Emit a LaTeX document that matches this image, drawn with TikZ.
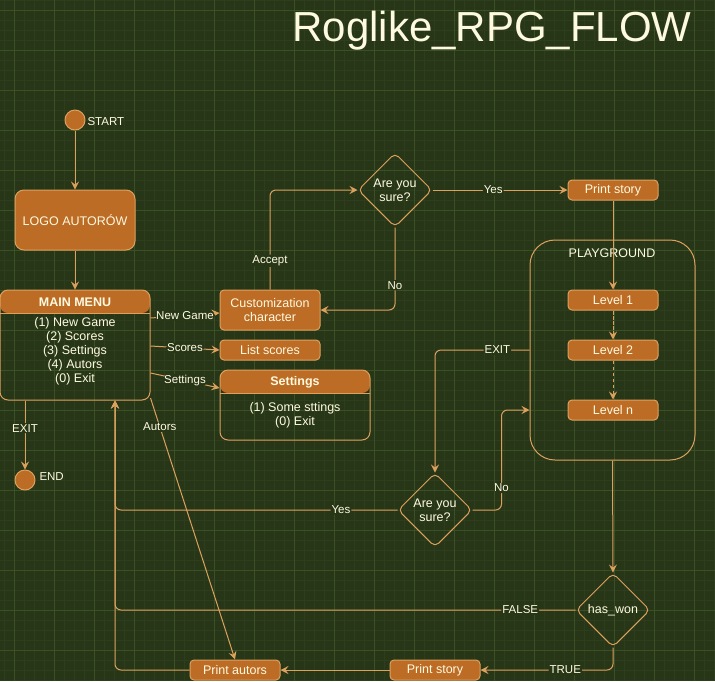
\documentclass[tikz,border=0pt]{standalone}
\usepackage{fontspec}
\setmainfont{Liberation Sans}
\usetikzlibrary{arrows.meta,shapes.geometric}
\definecolor{bgc}{HTML}{283618}
\definecolor{gridmin}{HTML}{2D3D1D}
\definecolor{gridmaj}{HTML}{3A5025}
\definecolor{boxc}{HTML}{BC6C25}
\definecolor{linec}{HTML}{DDA15E}
\definecolor{txtc}{HTML}{FEFAE0}
\tikzset{every picture/.style={line width=1pt}}

\begin{document}
\begin{tikzpicture}[x=1pt, y=-1pt, line join=round, >={Stealth[length=8pt,width=8pt,inset=3pt]},
  box/.style={draw=linec, fill=boxc, text=txtc, rounded corners=4pt, align=center, inner sep=0pt, minimum width=90pt, minimum height=20pt, font=\fontsize{12.5}{14}\selectfont},
  lane/.style={draw=linec, rounded corners=8pt, inner sep=0pt,
    path picture={\fill[boxc] (path picture bounding box.north west) rectangle ([yshift=-#1]path picture bounding box.north east);
      \draw[linec] ([yshift=-#1]path picture bounding box.north west) -- ([yshift=-#1]path picture bounding box.north east);}},
  choice/.style={diamond, aspect=1, draw=linec, rounded corners=5pt, text=txtc, align=center, inner sep=0pt, minimum size=74pt, font=\fontsize{12.5}{14}\selectfont},
  state/.style={circle, draw=linec, fill=boxc, minimum size=20pt, inner sep=0pt},
  txt/.style={text=txtc, align=center, inner sep=0pt, font=\fontsize{12.5}{14}\selectfont},
  lbl/.style={fill=bgc, text=txtc, inner sep=1pt, font=\fontsize{11.5}{13}\selectfont},
  arr/.style={draw=linec, ->, rounded corners=6pt}]
\useasboundingbox (0,0) rectangle (715,681);
\fill[bgc] (0,0) rectangle (715,681);
% grid
\foreach \x in {4,14,...,714} \draw[gridmin, line width=0.5pt] (\x,0) -- (\x,681);
\foreach \y in {0,10,...,680} \draw[gridmin, line width=0.5pt] (0,\y) -- (715,\y);
\foreach \x in {14,54,...,714} \draw[gridmaj, line width=0.8pt] (\x,0) -- (\x,681);
\foreach \y in {10,50,...,680} \draw[gridmaj, line width=0.8pt] (0,\y) -- (715,\y);

\node[txt, anchor=east, font=\fontsize{42}{46}\selectfont] (title) at (692,31) {Roglike\_RPG\_FLOW};

% left column
\node[state] (start) at (75,120) {};
\node[txt, anchor=west, font=\fontsize{11.5}{13}\selectfont] (startlbl) at (87,122) {START};
\node[box, minimum width=120pt, minimum height=60pt, rounded corners=9pt] (logo) at (75,220) {LOGO AUTORÓW};
\node[lane=23pt, minimum width=150pt, minimum height=110pt] (mm) at (75,345) {};
\node[txt, font=\fontsize{12.5}{14}\selectfont\bfseries] (mmhead) at (75,302) {MAIN MENU};
\node[txt] (mmtxt) at (75,351) {(1) New Game\\(2) Scores\\(3) Settings\\(4) Autors\\(0) Exit};
\node[state] (endc) at (25,480) {};
\node[txt, anchor=west, font=\fontsize{11.5}{13}\selectfont] (endlbl) at (39,477) {END};

% menu targets
\node[box, minimum width=100pt, minimum height=40pt] (cust) at (270,310) {Customization\\character};
\node[box, minimum width=100pt] (scores) at (270,350) {List scores};
\node[lane=23pt, minimum width=150pt, minimum height=70pt] (sett) at (295,405) {};
\node[txt, font=\fontsize{12.5}{14}\selectfont\bfseries] (setthead) at (295,382) {Settings};
\node[txt] (setttxt) at (295,415) {(1) Some sttings\\(0) Exit};

% game
\node[choice] (sure1) at (395,190) {Are you\\sure?};
\node[box] (story1) at (613,190) {Print story};
\node[draw=linec, rounded corners=25pt, minimum width=165pt, minimum height=220pt, inner sep=0pt] (play) at (612.5,350) {};
\node[txt] (playlbl) at (612,253) {PLAYGROUND};
\node[box] (lvl1) at (613,300) {Level 1};
\node[box] (lvl2) at (613,350) {Level 2};
\node[box] (lvln) at (613,410) {Level n};
\node[choice] (sure2) at (435,510) {Are you\\sure?};
\node[choice] (won) at (613,610) {has\_won};
\node[box] (story2) at (435,670) {Print story};
\node[box] (autors) at (235,670) {Print autors};

% connectors
\draw[arr] (start) -- (logo);
\draw[arr] (logo) -- (mm);
\draw[arr] ([yshift=27pt]mm.east) -- node[lbl]{New Game} ([yshift=-3pt]cust.west);
\draw[arr] ([yshift=-1pt]mm.east) -- node[lbl]{Scores} (scores.west);
\draw[arr] ([yshift=-28pt]mm.east) -- node[lbl]{Settings} ([yshift=-6pt]setthead.west -| sett.west);
\draw[arr] ([yshift=-53pt]mm.east) -- node[lbl, pos=0.11]{Autors} (autors.north);
\draw[arr] ([xshift=-50pt]mm.south) -- node[lbl, pos=0.4]{EXIT} (endc.north);
\draw[arr] (cust.north) |- node[lbl, pos=0.145]{Accept} (sure1.west);
\draw[arr] (sure1.south) |- node[lbl, pos=0.35]{No} (cust.east);
\draw[arr] (sure1.east) -- node[lbl, pos=0.45]{Yes} (story1.west);
\draw[arr] (story1) -- (lvl1);
\draw[arr, dash pattern=on 4pt off 1pt] (lvl1) -- (lvl2);
\draw[arr, dash pattern=on 3pt off 3pt] (lvl2) -- (lvln);
\draw[arr] (lvl2.west -| play.west) -| node[lbl, pos=0.17]{EXIT} (sure2.north);
\draw[arr] (sure2.east) -| node[lbl, pos=0.61]{No} ([xshift=-28pt]lvln.west -| play.west) -- (lvln.west -| play.west);
\draw[arr] (sure2.west) -| node[lbl, pos=0.1]{Yes} ([xshift=40pt]mm.south);
\draw[arr] (play.south) -- (won.north);
\draw[arr] (won.west) -| node[lbl, pos=0.06]{FALSE} ([xshift=40pt]mm.south);
\draw[arr] (won.south) |- node[lbl, pos=0.68]{TRUE} (story2.east);
\draw[arr] (story2) -- (autors);
\draw[arr] (autors.west) -| ([xshift=40pt]mm.south);
\end{tikzpicture}
\end{document}
